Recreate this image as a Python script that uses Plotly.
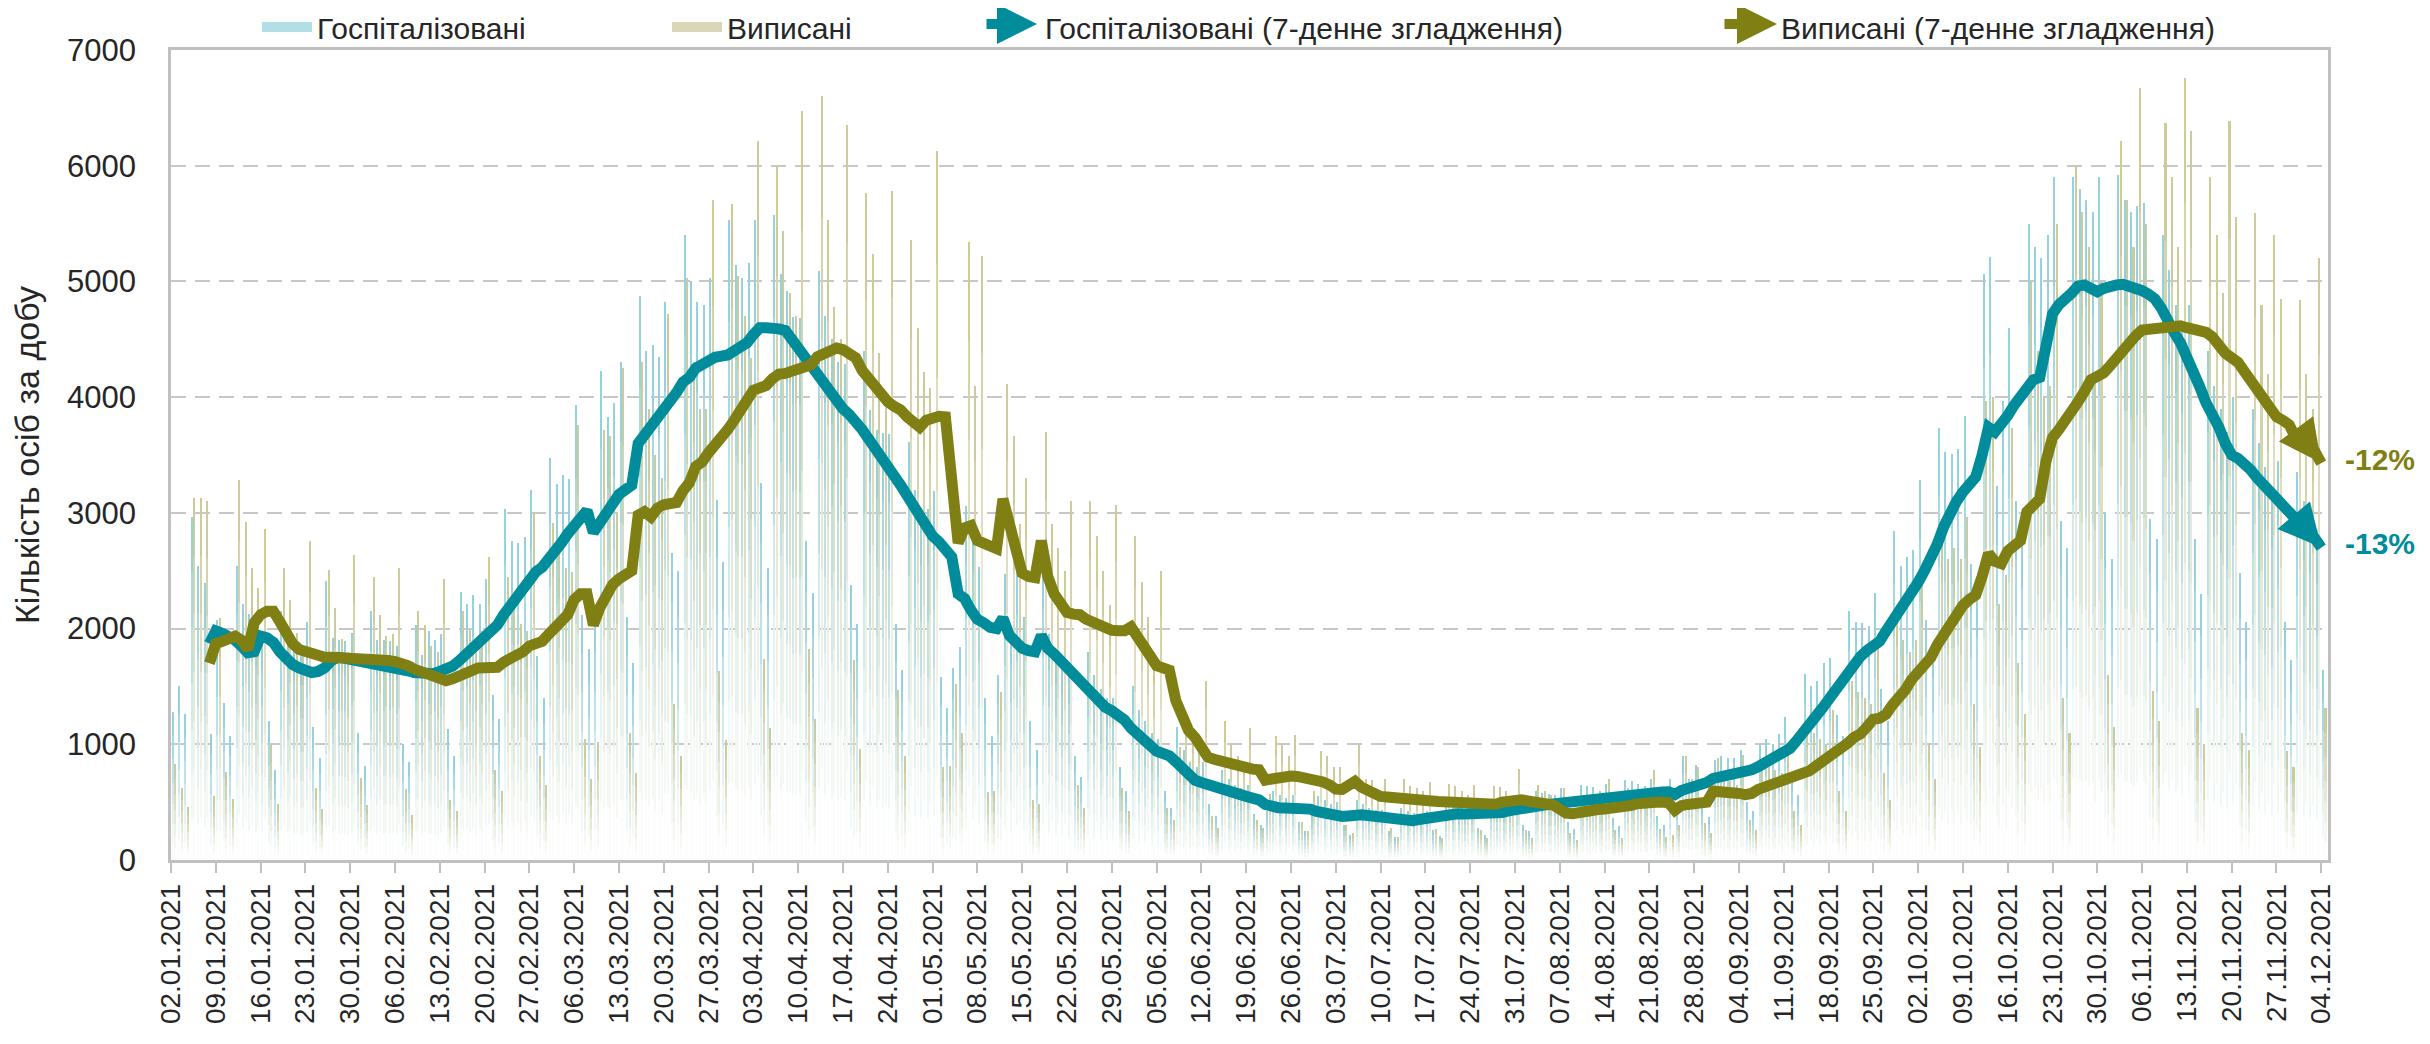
import numpy as np
import plotly.graph_objects as go

# ---------------- data ----------------
TICK_LABELS = [
    "02.01.2021", "09.01.2021", "16.01.2021", "23.01.2021", "30.01.2021", "06.02.2021",
    "13.02.2021", "20.02.2021", "27.02.2021", "06.03.2021", "13.03.2021", "20.03.2021",
    "27.03.2021", "03.04.2021", "10.04.2021", "17.04.2021", "24.04.2021", "01.05.2021",
    "08.05.2021", "15.05.2021", "22.05.2021", "29.05.2021", "05.06.2021", "12.06.2021",
    "19.06.2021", "26.06.2021", "03.07.2021", "10.07.2021", "17.07.2021", "24.07.2021",
    "31.07.2021", "07.08.2021", "14.08.2021", "21.08.2021", "28.08.2021", "04.09.2021",
    "11.09.2021", "18.09.2021", "25.09.2021", "02.10.2021", "09.10.2021", "16.10.2021",
    "23.10.2021", "30.10.2021", "06.11.2021", "13.11.2021", "20.11.2021", "27.11.2021",
    "04.12.2021",
]

# daily values, 02.01.2021 .. 04.12.2021 (one row per week, Sat..Fri)
HOSPITALIZED = [
    1280, 1500, 1260, 2960, 2540, 2390, 1090,
    2070, 1360, 1070, 2540, 2210, 2130, 1990,
    1950, 1200, 780, 2150, 2000, 1850, 1800,
    2060, 1150, 880, 2410, 1920, 1900, 1890,
    1960, 1100, 810, 2150, 1900, 1900, 1890,
    1850, 1000, 850, 2030, 1770, 1980, 1900,
    1950, 1130, 895, 2315, 2210, 2290, 2210,
    2425, 1425, 1215, 3030, 2760, 2740, 2790,
    3200, 1760, 1400, 3470, 3250, 3330, 3290,
    3930, 2120, 1820, 2140, 4230, 3830, 3950,
    4300, 2100, 1700, 4870, 4400, 4450, 4350,
    4820, 2650, 2500, 5400, 5000, 4820, 4800,
    5030, 3110, 2575, 5530, 5140, 5030, 5160,
    5530, 3260, 2520, 5575, 5060, 4920, 4690,
    4680, 2760, 2310, 5090, 4700, 4500, 4300,
    4290, 2380, 2040, 4400, 3890, 3720, 3690,
    3680, 2040, 1640, 3610, 3200, 3040, 3030,
    3190, 1580, 1310, 1660, 1840, 3060, 2950,
    2530, 1400, 1070, 1600, 2470, 2010, 2530,
    2100, 1200, 950, 2580, 1950, 1800, 1700,
    1600, 900, 720, 1800, 1600, 1480, 1400,
    1400, 800, 600, 1500, 1300, 1200, 1100,
    1050, 600, 450, 1150, 950, 850, 800,
    850, 480, 380, 780, 700, 650, 620,
    650, 400, 300, 420, 600, 560, 540,
    560, 330, 250, 400, 550, 520, 480,
    500, 300, 220, 520, 480, 450, 430,
    430, 250, 200, 450, 420, 410, 400,
    420, 260, 210, 480, 460, 450, 440,
    450, 280, 220, 500, 480, 480, 470,
    560, 300, 250, 600, 580, 570, 560,
    620, 330, 270, 650, 640, 630, 600,
    660, 360, 290, 690, 680, 660, 640,
    700, 380, 300, 700, 505, 900, 700,
    820, 450, 370, 860, 900, 880, 880,
    950, 500, 420, 1000, 1050, 1000, 1090,
    1240, 700, 560, 1610, 1500, 1550, 1700,
    1750, 1250, 1070, 2150, 2060, 2050, 2020,
    2310, 1480, 1200, 2840, 2540, 2620, 2680,
    3280, 2070, 1870, 3730, 3530, 3510, 3550,
    3840, 2560, 2290, 5060, 5210, 3230, 3970,
    4600, 3100, 2800, 5500, 5300, 5200, 5400,
    5900, 2930, 2700, 5900, 5800, 5700, 5600,
    5900, 3000, 2600, 5920, 5700, 5600, 5650,
    5680, 2950, 2770, 5400, 5100, 4800, 4600,
    4800, 2770, 2300, 4400, 4100, 3900, 3700,
    4000, 2480, 2060, 3900, 3600, 3400, 3200,
    3450, 2060, 1730, 3350, 3100, 2950, 2850,
    1640,
]

DISCHARGED = [
    830, 620, 460, 3130, 3130, 3100, 550,
    2090, 760, 530, 3280, 2920, 2520, 2350,
    2860, 1000, 480, 2520, 2250, 1960, 1800,
    2760, 620, 440, 2510, 2180, 1910, 1800,
    2640, 710, 475, 2450, 2120, 1940, 1950,
    2520, 610, 385, 2150, 2030, 1850, 1800,
    2425, 520, 420, 2150, 2000, 1900, 1980,
    2620, 780, 600, 2450, 2200, 2040, 1980,
    3000, 900, 650, 2910, 2700, 2520, 2490,
    3760, 1050, 700, 1020, 3720, 3660, 3000,
    4256, 1100, 750, 4300, 3900, 3500, 3300,
    4720, 1350, 900, 5030, 4300, 3900, 3900,
    5700, 1630, 1040, 5670, 5050, 4700, 4340,
    6215, 1740, 1140, 6010, 5440, 4900, 4700,
    6470, 1820, 1215, 6600, 5530, 4780, 4500,
    6350, 1730, 960, 5760, 5240, 4380, 4000,
    5785, 1470, 895, 5360, 4600, 4220, 4080,
    6130, 800, 810, 1525, 1100, 5340, 4100,
    5220, 590, 600, 1455, 4110, 3660, 2900,
    3300, 520, 480, 3700, 2900, 2700, 2500,
    3100, 650, 450, 3100, 2800, 2500, 2200,
    3070, 620, 420, 2800, 2400, 2100, 1800,
    2500, 450, 350, 980, 1250, 1100, 1000,
    1550, 380, 280, 1200, 1000, 900, 850,
    1140, 350, 280, 570, 1070, 990, 900,
    1080, 330, 250, 600, 940, 900, 800,
    800, 300, 230, 990, 700, 690, 600,
    700, 280, 200, 700, 640, 620, 600,
    670, 270, 190, 660, 640, 600, 560,
    650, 260, 190, 640, 635, 600, 550,
    785, 260, 190, 650, 600, 560, 500,
    620, 230, 170, 560, 540, 520, 480,
    700, 260, 190, 620, 600, 580, 560,
    780, 270, 200, 220, 300, 900, 700,
    800, 320, 230, 885, 700, 680, 650,
    909, 350, 260, 800, 800, 780, 750,
    950, 420, 300, 1150, 1100, 1050, 1000,
    1300, 600, 420, 1550, 1450, 1400, 1350,
    1850, 750, 520, 2200, 1900, 1800, 1900,
    2400, 1000, 700, 2850, 2600, 2700, 2600,
    2960, 1350, 980, 3970, 4000, 2210, 2460,
    3730, 1700, 1260, 5000, 4400, 4000, 4100,
    5500, 1400, 1100, 6000, 5600, 5300, 4200,
    5000, 1600, 1150, 6215, 5700, 5300, 6670,
    5500, 1460, 1200, 6365, 5900, 5300, 6760,
    6300, 1310, 1000, 5900, 5400, 4900, 6390,
    5560, 1100, 950, 5590, 4800, 4200, 5400,
    4850, 940, 800, 4836, 4200, 3900, 5200,
    1311,
]

# 7-day smoothed series, 08.01.2021 .. 04.12.2021
HOSPITALIZED_7D = [
    1870,
    1980, 1960, 1940, 1900, 1850, 1790, 1800,
    1935, 1920, 1880, 1800, 1740, 1690, 1660,
    1635, 1620, 1630, 1660, 1720, 1750, 1745,
    1735, 1730, 1720, 1700, 1690, 1685, 1685,
    1670, 1650, 1635, 1620, 1610, 1600, 1610,
    1630, 1650, 1675, 1720, 1770, 1820, 1870,
    1930, 1980, 2030, 2120, 2200, 2270, 2350,
    2430, 2490, 2530, 2590, 2660, 2740, 2820,
    2900, 2980, 3020, 2830, 2910, 3020, 3100,
    3160, 3200, 3240, 3600, 3670, 3730, 3810,
    3880, 3960, 4040, 4130, 4170, 4250, 4290,
    4330, 4345, 4355, 4365, 4400, 4430, 4470,
    4540, 4600, 4600, 4600, 4590, 4575, 4500,
    4390, 4330, 4270, 4200, 4110, 4020, 3950,
    3900, 3850, 3795, 3720, 3640, 3550, 3460,
    3380, 3320, 3240, 3150, 3040, 2950, 2870,
    2800, 2750, 2700, 2620, 2300, 2260, 2160,
    2080, 2050, 2010, 2000, 2090, 1940, 1880,
    1830, 1810, 1800, 1940, 1830, 1780, 1720,
    1660, 1615, 1570, 1490, 1430, 1380, 1320,
    1290, 1250, 1210, 1140, 1080, 1030, 990,
    940, 920, 900, 850, 790, 740, 690,
    670, 650, 640, 630, 615, 590, 565,
    550, 535, 520, 480, 460, 452, 450,
    450, 452, 450, 440, 420, 405, 395,
    385, 376, 380, 397, 390, 385, 380,
    365, 350, 345, 340, 338, 340, 350,
    360, 361, 362, 395, 397, 400, 397,
    397, 395, 397, 400, 405, 410, 425,
    430, 440, 450, 460, 468, 478, 485,
    492, 498, 505, 515, 522, 530, 536,
    540, 548, 553, 558, 564, 570, 574,
    578, 583, 588, 590, 565, 600, 615,
    625, 640, 670, 705, 715, 735, 750,
    760, 770, 780, 805, 835, 870, 910,
    940, 965, 1030, 1090, 1160, 1240, 1310,
    1390, 1470, 1550, 1630, 1700, 1760, 1810,
    1850, 1890, 1980, 2060, 2140, 2210, 2300,
    2400, 2500, 2600, 2730, 2880, 3010, 3100,
    3180, 3250, 3310, 3500, 3740, 3700, 3760,
    3840, 3930, 4010, 4100, 4150, 4170, 4500,
    4720, 4800, 4840, 4900, 4960, 4970, 4940,
    4910, 4940, 4965, 4970, 4975, 4960, 4950,
    4920, 4890, 4850, 4770, 4650, 4560, 4470,
    4360, 4240, 4090, 3950, 3850, 3740, 3600,
    3500, 3470, 3430, 3370, 3300, 3240, 3180,
    3100, 3050, 3000, 2950, 2880, 2830, 2780,
    2700,
]

DISCHARGED_7D = [
    1700,
    1870, 1890, 1910, 1935, 1900, 1820, 2050,
    2120, 2150, 2150, 2060, 1960, 1870, 1820,
    1800, 1770, 1755, 1753, 1752, 1750, 1745,
    1740, 1745, 1750, 1745, 1735, 1730, 1725,
    1715, 1705, 1680, 1650, 1630, 1615, 1590,
    1560, 1550, 1565, 1590, 1610, 1640, 1660,
    1662, 1665, 1665, 1710, 1735, 1755, 1800,
    1850, 1880, 1890, 1950, 2010, 2060, 2120,
    2250, 2300, 2300, 2030, 2180, 2280, 2380,
    2430, 2460, 2500, 2980, 3010, 2965, 3040,
    3070, 3075, 3090, 3190, 3260, 3400, 3440,
    3520, 3580, 3630, 3720, 3800, 3880, 3990,
    4060, 4080, 4100, 4160, 4200, 4205, 4220,
    4240, 4260, 4280, 4350, 4380, 4410, 4425,
    4410, 4380, 4340, 4230, 4160, 4120, 4040,
    3960, 3920, 3890, 3830, 3770, 3740, 3800,
    3830, 3835, 3830, 3300, 2740, 2870, 2890,
    2760, 2730, 2700, 2690, 3120, 2880, 2620,
    2480, 2450, 2440, 2760, 2450, 2300, 2200,
    2140, 2125, 2120, 2080, 2050, 2030, 2000,
    1985, 1982, 1982, 2014, 1940, 1865, 1760,
    1680, 1660, 1640, 1380, 1230, 1120, 1060,
    950, 890, 870, 855, 840, 820, 800,
    790, 785, 780, 690, 700, 712, 722,
    725, 722, 715, 705, 695, 675, 650,
    612, 610, 650, 680, 630, 595, 570,
    550, 545, 543, 540, 525, 518, 515,
    512, 510, 505, 502, 500, 497, 494,
    492, 490, 489, 486, 482, 500, 511,
    515, 521, 510, 500, 490, 482, 475,
    440, 405, 400, 415, 428, 432, 436,
    440, 442, 445, 455, 470, 485, 495,
    498, 498, 498, 496, 430, 470, 480,
    490, 495, 500, 595, 595, 590, 588,
    575, 565, 575, 610, 630, 645, 670,
    680, 690, 705, 740, 770, 810, 850,
    880, 910, 950, 1010, 1060, 1090, 1150,
    1215, 1225, 1260, 1340, 1400, 1470, 1560,
    1630, 1680, 1750, 1860, 1950, 2030, 2120,
    2200, 2250, 2290, 2450, 2650, 2580, 2560,
    2670, 2720, 2760, 3010, 3070, 3120, 3450,
    3650, 3720, 3790, 3880, 3960, 4050, 4150,
    4180, 4210, 4270, 4340, 4380, 4450, 4530,
    4580, 4590, 4585, 4590, 4610, 4616, 4616,
    4600, 4590, 4575, 4560, 4520, 4440, 4380,
    4340, 4300, 4220, 4140, 4060, 3990, 3940,
    3830, 3800, 3760, 3650, 3600, 3580, 3530,
    3430,
]

CHANGE_LABELS = {"hosp": "-13%", "disch": "-12%"}

# ---------------- styling ----------------
C_HOSP_BAR = (150, 210, 221)
C_DISCH_BAR = (206, 203, 155)
C_HOSP_LEG = "rgb(178,223,229)"
C_DISCH_LEG = "rgb(217,215,183)"
C_HOSP_LINE = "#008c9a"
C_DISCH_LINE = "#7f7f14"
GRID = "#c8c8c8"
FRAME = "#c0c0c0"
FONT = "Liberation Sans, Arial, sans-serif"

SEG_EDGES = [0.0, 0.12, 0.25, 0.38, 0.52, 0.68, 0.84, 1.0]
SEG_ALPHA = [0.04, 0.14, 0.28, 0.45, 0.65, 0.85, 1.0]

# the page body adds an 8px offset; the figure is sized so it still fills the window
PAGE_OFF = 8
W, H = 2430 - PAGE_OFF, 1044 - PAGE_OFF
M_L, M_R, M_T, M_B = 171 - PAGE_OFF, 102, 50 - PAGE_OFF, 184
PLOT_W, PLOT_H = W - M_L - M_R, H - M_T - M_B
LEGEND_TEXT_X = [318, 728, 1046, 1782]   # where each legend label starts (window px)
LEGEND_Y = 27                            # legend row centre (window px)
ARROW_ICON = {"legend3": (985, 1037), "legend4": (1723, 1777)}  # tail, tip (window px)
ARROW_ICON_Y = 24


def mix(rgb, a):
    r, g, b = (int(round(255 + (c - 255) * a)) for c in rgb)
    return f"rgb({r},{g},{b})"


n_days = len(HOSPITALIZED)
days = np.arange(n_days)
hosp = np.array(HOSPITALIZED, dtype=float)
disch = np.array(DISCHARGED, dtype=float)
n_s = len(HOSPITALIZED_7D)
sdays = days[n_days - n_s:]

fig = go.Figure()

BAR_W = 0.32
for vals, rgb, legcol, name, off, lg in [
    (hosp, C_HOSP_BAR, C_HOSP_LEG, "Госпіталізовані", 0.10, "legend"),
    (disch, C_DISCH_BAR, C_DISCH_LEG, "Виписані", 0.50, "legend2"),
]:
    for k in range(len(SEG_ALPHA)):
        lo, hi = SEG_EDGES[k], SEG_EDGES[k + 1]
        fig.add_trace(go.Bar(
            x=days, y=vals * (hi - lo), base=vals * lo,
            width=BAR_W, offset=off,
            marker=dict(color=mix(rgb, SEG_ALPHA[k]), line=dict(width=0)),
            name=name, showlegend=False, legendgroup=name, legend=lg,
            hoverinfo="skip",
        ))
    # legend swatch (wide rectangle like the original)
    fig.add_trace(go.Scatter(
        x=[None], y=[None], mode="lines",
        line=dict(color=legcol, width=19),
        name=name, showlegend=True, legendgroup=name, legend=lg,
    ))

for vals, col, name, key, lg in [
    (HOSPITALIZED_7D, C_HOSP_LINE, "Госпіталізовані (7-денне згладження)", "hosp", "legend3"),
    (DISCHARGED_7D, C_DISCH_LINE, "Виписані (7-денне згладження)", "disch", "legend4"),
]:
    fig.add_trace(go.Scatter(
        x=sdays, y=vals, mode="lines",
        line=dict(color=col, width=11),
        name=name, showlegend=False, legendgroup=name, legend=lg,
    ))
    # legend entry (its icon is drawn below as an arrow)
    fig.add_trace(go.Scatter(
        x=[None], y=[None], mode="markers",
        marker=dict(symbol="square", size=10, color="rgba(0,0,0,0)"),
        name=name, showlegend=True, legendgroup=name, legend=lg,
    ))
    tail, tip = ARROW_ICON[lg]
    fig.add_annotation(
        xref="paper", yref="paper",
        x=(tip - PAGE_OFF - M_L) / PLOT_W,
        y=1 + (M_T - (ARROW_ICON_Y - PAGE_OFF)) / PLOT_H,
        ax=-(tip - tail), ay=0, text="", showarrow=True,
        arrowhead=2, arrowsize=0.8, arrowwidth=10, arrowcolor=col,
        standoff=0, startstandoff=0,
    )
    # arrowhead at the end of the smoothed line
    fig.add_annotation(
        x=sdays[-1], y=vals[-1], ax=sdays[-3], ay=vals[-3],
        xref="x", yref="y", axref="x", ayref="y",
        text="", showarrow=True, arrowhead=2, arrowsize=0.85,
        arrowwidth=10, arrowcolor=col, standoff=0, startstandoff=0,
    )
    fig.add_annotation(
        x=sdays[-1], y=vals[-1], text=f"<b>{CHANGE_LABELS[key]}</b>",
        showarrow=False, xanchor="left", yanchor="middle", xshift=22, yshift=4,
        font=dict(family=FONT, size=30, color=col),
    )

legend_common = dict(
    orientation="h", xref="container", yref="container",
    y=1 - (LEGEND_Y - PAGE_OFF) / H, yanchor="middle", xanchor="left",
    font=dict(family=FONT, size=30, color="#262626"),
    bgcolor="rgba(0,0,0,0)", itemwidth=50,
)
legends = {}
for i, tx in enumerate(LEGEND_TEXT_X):
    key = "legend" if i == 0 else f"legend{i + 1}"
    legends[key] = dict(legend_common, x=(tx - PAGE_OFF - 61) / W)

fig.update_layout(
    width=W, height=H,
    margin=dict(l=M_L, r=M_R, t=M_T, b=M_B, autoexpand=False),
    paper_bgcolor="white", plot_bgcolor="white",
    barmode="overlay", bargap=0,
    font=dict(family=FONT, size=28, color="#262626"),
    showlegend=True,
    **legends,
)

fig.update_xaxes(
    range=[0, 337.05],
    tickmode="array", tickvals=list(range(0, n_days, 7)), ticktext=TICK_LABELS,
    tickangle=-90, tickfont=dict(family=FONT, size=28, color="#262626"),
    ticks="outside", ticklen=10, tickwidth=2, tickcolor=FRAME,
    showline=True, linecolor=FRAME, linewidth=2.5, mirror=True,
    showgrid=False, zeroline=False,
)
fig.update_yaxes(
    range=[0, 7000], dtick=1000, tick0=0,
    tickfont=dict(family=FONT, size=31, color="#262626"),
    showline=True, linecolor=FRAME, linewidth=2.5, mirror=True,
    showgrid=True, gridcolor=GRID, gridwidth=1.5, griddash="15px,9px",
    zeroline=False, ticks="", ticklabelstandoff=26,
    title=dict(text="Кількість осіб за добу", standoff=28,
               font=dict(family=FONT, size=34, color="#262626")),
)

fig.write_html("out.html")
